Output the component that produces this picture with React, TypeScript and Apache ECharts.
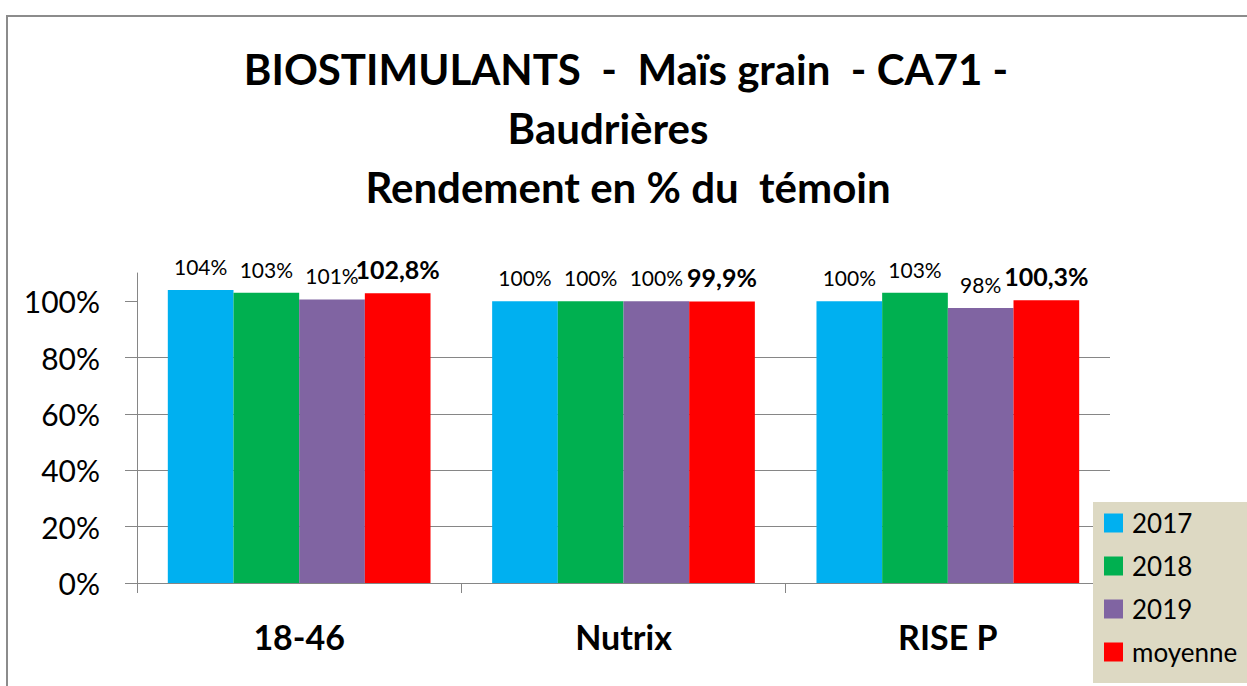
import React, { useEffect, useRef } from "react";
import * as echarts from "echarts";

const categories = ["18-46", "Nutrix", "RISE P"];
const seriesNames = ["2017", "2018", "2019", "moyenne"];
const values2017 = [1.04, 1.0, 1.0];
const values2018 = [1.03, 1.0, 1.03];
const values2019 = [1.006, 1.0, 0.976];
const valuesMean = [1.028, 0.999, 1.003];
const colors = ["#00B0F0", "#00B050", "#8064A2", "#FF0000"];
const yTicks = [0, 0.2, 0.4, 0.6, 0.8, 1.0];
const titleLines = [
  "BIOSTIMULANTS  -  Maïs grain  - CA71 -",
  "Baudrières",
  "Rendement en % du  témoin",
];

const FONT = "Lato, 'Open Sans', sans-serif";

export default function App() {
  const ref = useRef<HTMLDivElement>(null);
  useEffect(() => {
    if (!ref.current) return;
    const chart = echarts.init(ref.current, undefined, { renderer: "svg" });
    const yearFmt = (p: any) => Math.round(p.value * 100) + "%";
    const meanFmt = (p: any) => (p.value * 100).toFixed(1).replace(".", ",") + "%";
    const data = [values2017, values2018, values2019, valuesMean];
    const series = data.map((d, i) => ({
      name: seriesNames[i],
      type: "bar",
      data: d,
      barGap: "0%",
      barCategoryGap: "19%",
      itemStyle: { color: colors[i] },
      label: {
        show: true,
        position: "top",
        distance: i === 3 ? 12 : 13,
        color: "#000",
        fontFamily: FONT,
        fontSize: i === 3 ? 25 : 21,
        fontWeight: i === 3 ? "bold" : "normal",
        formatter: i === 3 ? meanFmt : yearFmt,
      },
    }));
    const titleX = [626, 608, 628];
    chart.setOption({
      animation: false,
      backgroundColor: "#fff",
      textStyle: { fontFamily: FONT },
      graphic: [
        {
          type: "rect",
          z: -10,
          shape: { x: 7, y: 16, width: 1400, height: 900 },
          style: { fill: "none", stroke: "#8c8c8c", lineWidth: 2 },
        },
        ...titleLines.map((t, i) => ({
          type: "text",
          x: titleX[i],
          y: 69 + i * 59,
          style: {
            text: t,
            fontFamily: FONT,
            fontSize: 42,
            fontWeight: "bold",
            fill: "#000",
            align: "center",
            verticalAlign: "middle",
          },
        })),
      ],
      legend: {
        orient: "vertical",
        left: 1093,
        top: 502,
        height: 184,
        backgroundColor: "#DDD9C3",
        padding: [8, 40, 18, 11],
        itemWidth: 19,
        itemHeight: 19,
        itemGap: 17,
        icon: "rect",
        data: seriesNames,
        textStyle: {
          fontFamily: FONT,
          fontSize: 26,
          lineHeight: 25,
          color: "#000",
          padding: [0, 0, 0, 4],
        },
      },
      grid: { left: 137, right: 137, top: 273, bottom: 103, containLabel: false },
      xAxis: {
        type: "category",
        data: categories,
        axisLine: { show: true, lineStyle: { color: "#868686", width: 1 } },
        axisTick: { show: true, length: 10, lineStyle: { color: "#868686" } },
        axisLabel: {
          color: "#000",
          fontFamily: FONT,
          fontSize: 34,
          fontWeight: "bold",
          margin: 36,
        },
      },
      yAxis: {
        type: "value",
        min: 0,
        max: 1.1,
        interval: 0.2,
        axisLine: { show: true, lineStyle: { color: "#868686", width: 1 } },
        axisTick: {
          show: true,
          length: 12,
          lineStyle: { color: "#868686" },
          customValues: yTicks,
        },
        splitLine: { show: true, showMaxLine: false, lineStyle: { color: "#868686", width: 1 } },
        axisLabel: {
          color: "#000",
          fontFamily: FONT,
          fontSize: 30,
          margin: 37,
          customValues: yTicks,
          formatter: (v: number) => Math.round(v * 100) + "%",
        },
      },
      series,
    });
    return () => chart.dispose();
  }, []);
  return (
    <div
      ref={ref}
      style={{ position: "absolute", left: 0, top: 0, width: 1247, height: 686 }}
    />
  );
}
